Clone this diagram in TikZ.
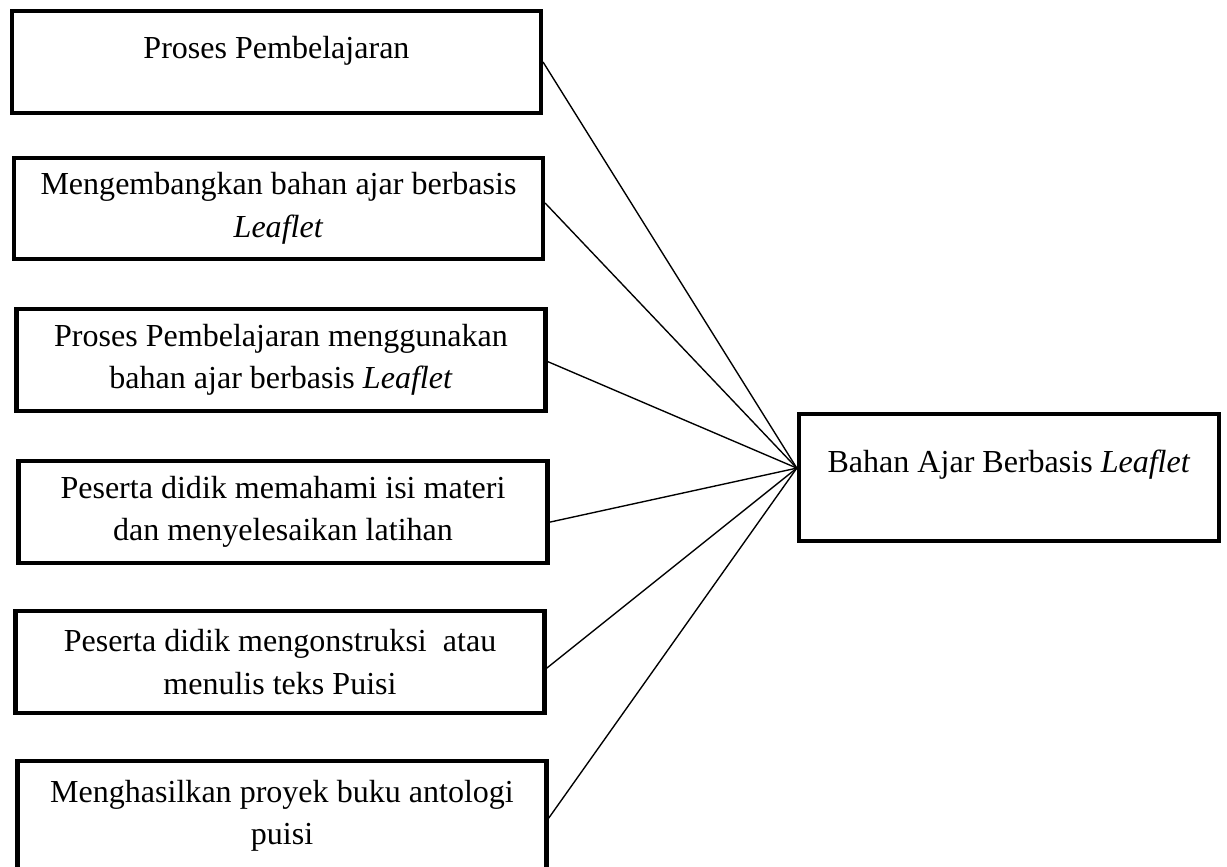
\documentclass[tikz,border=0pt]{standalone}
\usepackage{fontspec}
\setmainfont{Liberation Serif}
\usetikzlibrary{positioning}
\tikzset{
  stepbox/.style={draw, line width=1.5pt, minimum width=6.76cm, minimum height=1.30cm,
                  inner sep=0pt, align=center, font=\fontsize{11.65pt}{15.4pt}\selectfont},
  topbox/.style ={stepbox, text depth=10.8pt},
  goalbox/.style={draw, line width=1.5pt, minimum width=5.37cm, minimum height=1.62cm,
                  inner sep=0pt, text depth=12pt, font=\fontsize{11.65pt}{15.4pt}\selectfont},
  link/.style   ={draw=black, line width=0.5pt},
}

\begin{document}
\begin{tikzpicture}
  \useasboundingbox (0,0) rectangle (15.68,-11.067);

  % ---- the six steps ------------------------------------------------------
  \node[topbox]  (proses)   at (3.533,-0.792)  {Proses Pembelajaran};
  \node[stepbox] (kembang)  at (3.559,-2.664)  {Mengembangkan bahan ajar berbasis\\ \textit{Leaflet}};
  \node[stepbox] (gunakan)  at (3.591,-4.600)  {Proses Pembelajaran menggunakan\\ bahan ajar berbasis \textit{Leaflet}};
  \node[stepbox] (paham)    at (3.616,-6.543)  {Peserta didik memahami isi materi\\ dan menyelesaikan latihan};
  \node[stepbox] (tulis)    at (3.578,-8.460)  {Peserta didik mengonstruksi\ \ atau\\ menulis teks Puisi};
  \node[stepbox, minimum height=1.40cm] (antologi) at (3.604,-10.427)
    {Menghasilkan proyek buku antologi\\ puisi};

  % ---- the goal -----------------------------------------------------------
  \node[goalbox] (leaflet) at (12.894,-6.102) {Bahan Ajar Berbasis \textit{Leaflet}};
  \coordinate (hub) at ([yshift=0.12cm]leaflet.west);

  % ---- connectors ---------------------------------------------------------
  \foreach \b/\s in {proses/0, kembang/0.07, gunakan/-0.02, paham/-0.13,
                     tulis/-0.08, antologi/-0.03}
    \draw[link] ([yshift=\s cm]\b.east) -- (hub);
\end{tikzpicture}
\end{document}
